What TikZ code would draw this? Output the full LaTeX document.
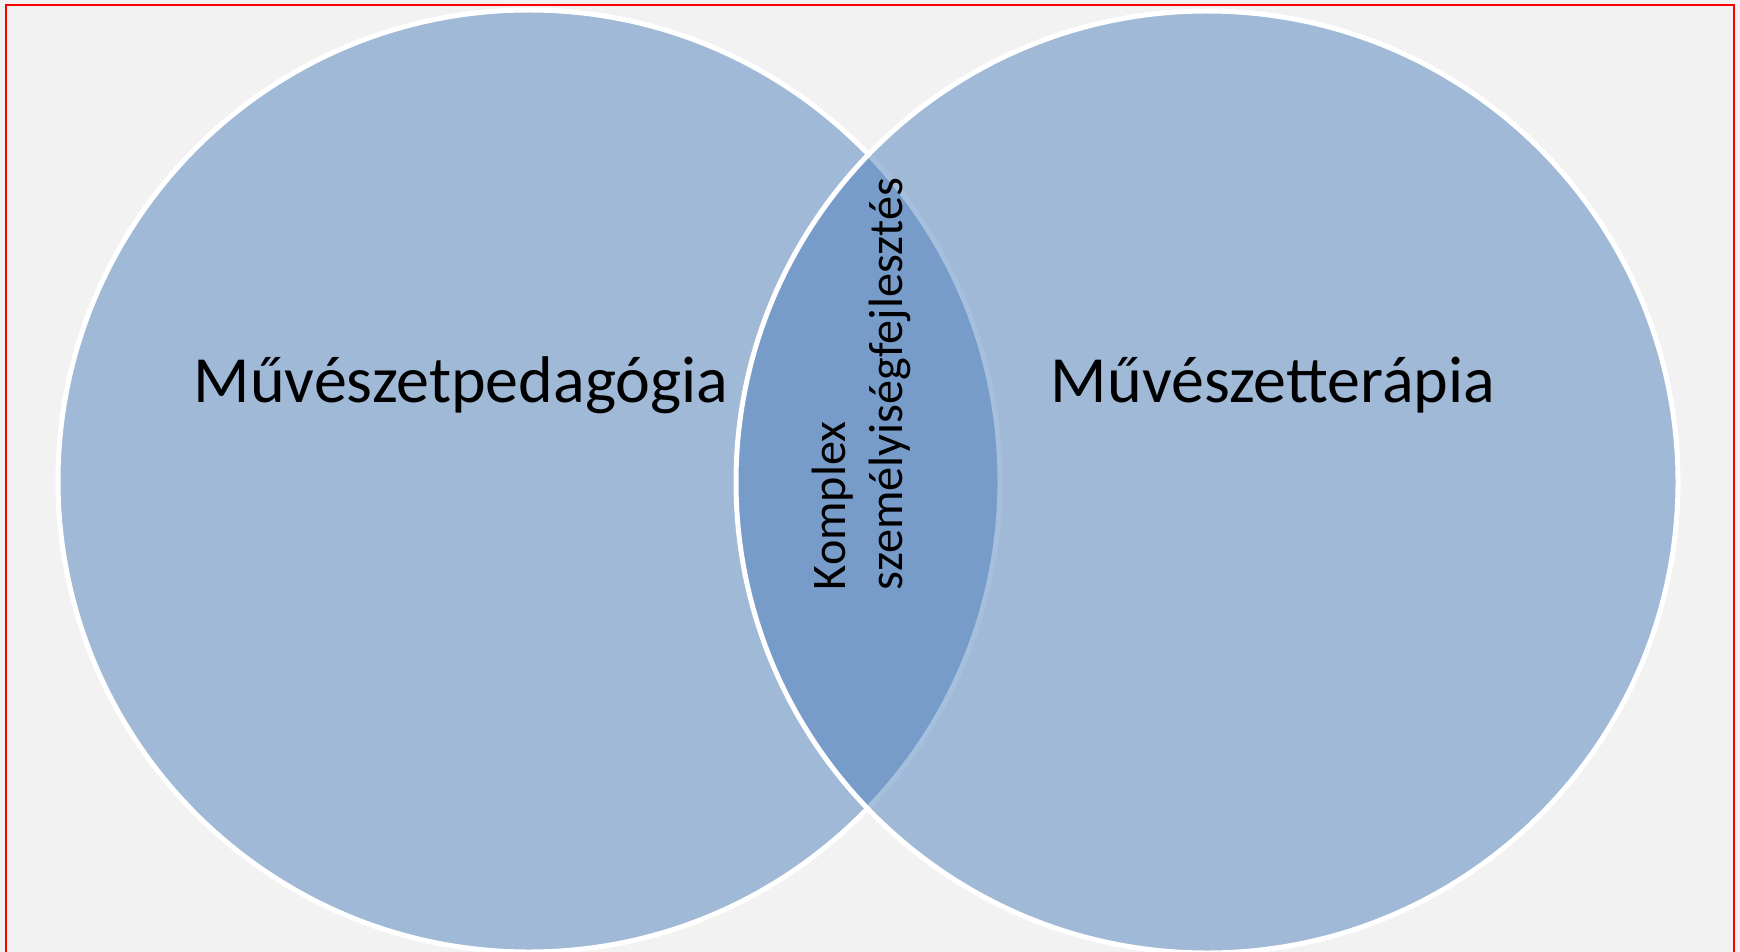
\documentclass[tikz,border=0pt]{standalone}
\usepackage{fontspec}
\setmainfont{Carlito}
\definecolor{bgc}{HTML}{F2F2F2}
\definecolor{vennblue}{HTML}{4F81BD}
\definecolor{frame}{HTML}{FF0000}
\begin{document}
\begin{tikzpicture}[x=1pt,y=-1pt,
  venn/.style={circle, minimum size=942pt, inner sep=0pt, fill=vennblue, fill opacity=0.5, draw=white, line width=5pt},
  biglabel/.style={inner sep=0pt, font=\fontsize{66}{79}\selectfont, anchor=base},
  lenslabel/.style={inner sep=0pt, font=\fontsize{48.2}{57}\selectfont, align=left, rotate=90}]
\path[use as bounding box] (0,0) rectangle (1740,952);
\clip (0,0) rectangle (1740,952);
\fill[bgc] (0,0) rectangle (1740,952);
\draw[frame, line width=2pt] (6,5.5) rectangle (1734,980);
\node[venn] (left) at (529,481) {};
\node[venn] (right) at (1207,482) {};
\node[biglabel] (ped) at (461,402) {Művészetpedagógia};
\node[biglabel] (ter) at (1273,402) {Művészetterápia};
\node[lenslabel] (lens) at (861,384) {Komplex\\személyiségfejlesztés};
\end{tikzpicture}
\end{document}
